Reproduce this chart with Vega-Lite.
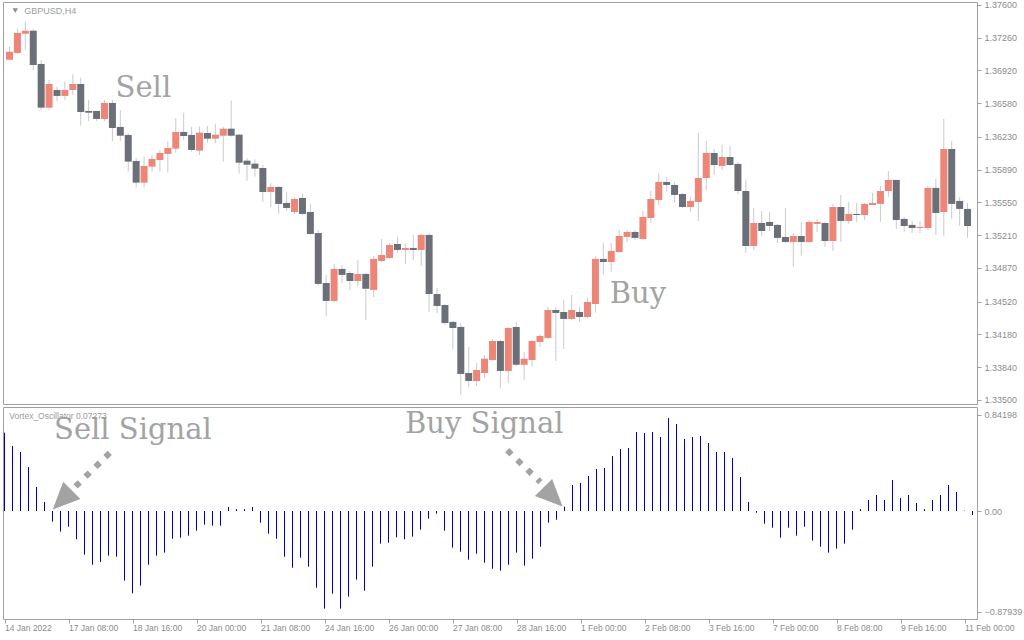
{
  "$schema": "https://vega.github.io/schema/vega-lite/v6.json",
  "padding": {"left": 2, "top": 0, "right": 0, "bottom": 0},
  "background": "white",
  "spacing": 3,
  "bounds": "flush",
  "config": {
    "view": {"stroke": "#a0a0a0", "strokeWidth": 1},
    "axis": {"grid": false, "domain": false, "labelFont": "Liberation Sans", "labelFontSize": 9, "labelColor": "#8c8c8c", "tickColor": "#a0a0a0", "tickSize": 4, "title": null, "labelOverlap": false}
  },
  "resolve": {"scale": {"x": "independent", "y": "independent"}},
  "datasets": {
    "candles": [
      {"i":0,"o":1.37032,"h":1.37167,"l":1.37029,"c":1.37115},
      {"i":1,"o":1.37102,"h":1.37358,"l":1.37092,"c":1.37310},
      {"i":2,"o":1.37302,"h":1.37427,"l":1.37136,"c":1.37333},
      {"i":3,"o":1.37333,"h":1.37351,"l":1.36925,"c":1.36977},
      {"i":4,"o":1.36988,"h":1.37029,"l":1.36510,"c":1.36534},
      {"i":5,"o":1.36534,"h":1.36822,"l":1.36510,"c":1.36780},
      {"i":6,"o":1.36718,"h":1.36752,"l":1.36604,"c":1.36656},
      {"i":7,"o":1.36656,"h":1.36804,"l":1.36614,"c":1.36718},
      {"i":8,"o":1.36718,"h":1.36881,"l":1.36666,"c":1.36780},
      {"i":9,"o":1.36780,"h":1.36845,"l":1.36347,"c":1.36489},
      {"i":10,"o":1.36500,"h":1.36614,"l":1.36396,"c":1.36482},
      {"i":11,"o":1.36500,"h":1.36500,"l":1.36396,"c":1.36417},
      {"i":12,"o":1.36417,"h":1.36614,"l":1.36396,"c":1.36583},
      {"i":13,"o":1.36583,"h":1.36614,"l":1.36188,"c":1.36323},
      {"i":14,"o":1.36334,"h":1.36510,"l":1.36188,"c":1.36243},
      {"i":15,"o":1.36251,"h":1.36271,"l":1.35870,"c":1.35974},
      {"i":16,"o":1.35981,"h":1.36012,"l":1.35704,"c":1.35756},
      {"i":17,"o":1.35756,"h":1.36025,"l":1.35704,"c":1.35929},
      {"i":18,"o":1.35922,"h":1.36043,"l":1.35870,"c":1.36002},
      {"i":19,"o":1.35991,"h":1.36095,"l":1.35870,"c":1.36064},
      {"i":20,"o":1.36054,"h":1.36188,"l":1.35859,"c":1.36116},
      {"i":21,"o":1.36109,"h":1.36427,"l":1.36067,"c":1.36282},
      {"i":22,"o":1.36282,"h":1.36479,"l":1.36199,"c":1.36240},
      {"i":23,"o":1.36251,"h":1.36334,"l":1.36077,"c":1.36095},
      {"i":24,"o":1.36088,"h":1.36337,"l":1.36043,"c":1.36275},
      {"i":25,"o":1.36271,"h":1.36344,"l":1.36171,"c":1.36212},
      {"i":26,"o":1.36212,"h":1.36365,"l":1.36165,"c":1.36254},
      {"i":27,"o":1.36243,"h":1.36334,"l":1.35974,"c":1.36316},
      {"i":28,"o":1.36316,"h":1.36607,"l":1.36233,"c":1.36243},
      {"i":29,"o":1.36254,"h":1.36261,"l":1.35849,"c":1.35963},
      {"i":30,"o":1.35984,"h":1.36009,"l":1.35776,"c":1.35942},
      {"i":31,"o":1.35953,"h":1.35998,"l":1.35818,"c":1.35901},
      {"i":32,"o":1.35908,"h":1.35939,"l":1.35555,"c":1.35659},
      {"i":33,"o":1.35659,"h":1.35752,"l":1.35503,"c":1.35711},
      {"i":34,"o":1.35711,"h":1.35721,"l":1.35431,"c":1.35535},
      {"i":35,"o":1.35545,"h":1.35659,"l":1.35462,"c":1.35493},
      {"i":36,"o":1.35451,"h":1.35600,"l":1.35431,"c":1.35586},
      {"i":37,"o":1.35597,"h":1.35638,"l":1.35420,"c":1.35431},
      {"i":38,"o":1.35451,"h":1.35535,"l":1.35213,"c":1.35223},
      {"i":39,"o":1.35233,"h":1.35265,"l":1.34686,"c":1.34704},
      {"i":40,"o":1.34714,"h":1.34798,"l":1.34372,"c":1.34528},
      {"i":41,"o":1.34528,"h":1.34912,"l":1.34517,"c":1.34860},
      {"i":42,"o":1.34860,"h":1.34901,"l":1.34714,"c":1.34798},
      {"i":43,"o":1.34818,"h":1.34839,"l":1.34642,"c":1.34735},
      {"i":44,"o":1.34735,"h":1.34953,"l":1.34683,"c":1.34808},
      {"i":45,"o":1.34808,"h":1.34818,"l":1.34330,"c":1.34654},
      {"i":46,"o":1.34642,"h":1.34995,"l":1.34569,"c":1.34964},
      {"i":47,"o":1.34943,"h":1.35171,"l":1.34932,"c":1.35005},
      {"i":48,"o":1.34974,"h":1.35129,"l":1.34964,"c":1.35109},
      {"i":49,"o":1.35119,"h":1.35192,"l":1.35026,"c":1.35057},
      {"i":50,"o":1.35057,"h":1.35129,"l":1.34912,"c":1.35078},
      {"i":51,"o":1.35078,"h":1.35213,"l":1.34953,"c":1.35057},
      {"i":52,"o":1.35057,"h":1.35223,"l":1.34891,"c":1.35213},
      {"i":53,"o":1.35213,"h":1.35233,"l":1.34413,"c":1.34600},
      {"i":54,"o":1.34600,"h":1.34663,"l":1.34403,"c":1.34476},
      {"i":55,"o":1.34486,"h":1.34496,"l":1.34279,"c":1.34299},
      {"i":56,"o":1.34310,"h":1.34320,"l":1.34029,"c":1.34247},
      {"i":57,"o":1.34258,"h":1.34299,"l":1.33552,"c":1.33770},
      {"i":58,"o":1.33780,"h":1.34050,"l":1.33635,"c":1.33697},
      {"i":59,"o":1.33697,"h":1.33884,"l":1.33645,"c":1.33811},
      {"i":60,"o":1.33780,"h":1.33967,"l":1.33728,"c":1.33928},
      {"i":61,"o":1.33915,"h":1.34133,"l":1.33905,"c":1.34112},
      {"i":62,"o":1.34112,"h":1.34123,"l":1.33625,"c":1.33801},
      {"i":63,"o":1.33801,"h":1.34258,"l":1.33676,"c":1.34247},
      {"i":64,"o":1.34258,"h":1.34310,"l":1.33853,"c":1.33865},
      {"i":65,"o":1.33865,"h":1.33998,"l":1.33708,"c":1.33928},
      {"i":66,"o":1.33915,"h":1.34123,"l":1.33843,"c":1.34112},
      {"i":67,"o":1.34102,"h":1.34185,"l":1.34050,"c":1.34164},
      {"i":68,"o":1.34144,"h":1.34465,"l":1.34133,"c":1.34434},
      {"i":69,"o":1.34434,"h":1.34465,"l":1.33905,"c":1.34403},
      {"i":70,"o":1.34413,"h":1.34538,"l":1.34029,"c":1.34341},
      {"i":71,"o":1.34341,"h":1.34590,"l":1.34330,"c":1.34434},
      {"i":72,"o":1.34413,"h":1.34465,"l":1.34310,"c":1.34361},
      {"i":73,"o":1.34361,"h":1.34559,"l":1.34351,"c":1.34517},
      {"i":74,"o":1.34496,"h":1.34995,"l":1.34406,"c":1.34964},
      {"i":75,"o":1.34964,"h":1.35129,"l":1.34798,"c":1.34932},
      {"i":76,"o":1.34932,"h":1.35129,"l":1.34832,"c":1.35047},
      {"i":77,"o":1.35036,"h":1.35265,"l":1.35026,"c":1.35202},
      {"i":78,"o":1.35192,"h":1.35265,"l":1.35140,"c":1.35244},
      {"i":79,"o":1.35244,"h":1.35265,"l":1.35161,"c":1.35182},
      {"i":80,"o":1.35171,"h":1.35462,"l":1.35161,"c":1.35400},
      {"i":81,"o":1.35389,"h":1.35669,"l":1.35337,"c":1.35586},
      {"i":82,"o":1.35576,"h":1.35856,"l":1.35524,"c":1.35763},
      {"i":83,"o":1.35763,"h":1.35815,"l":1.35659,"c":1.35732},
      {"i":84,"o":1.35732,"h":1.35763,"l":1.35545,"c":1.35628},
      {"i":85,"o":1.35638,"h":1.35649,"l":1.35493,"c":1.35503},
      {"i":86,"o":1.35503,"h":1.35607,"l":1.35451,"c":1.35566},
      {"i":87,"o":1.35555,"h":1.36271,"l":1.35358,"c":1.35804},
      {"i":88,"o":1.35804,"h":1.36188,"l":1.35680,"c":1.36064},
      {"i":89,"o":1.36064,"h":1.36105,"l":1.35836,"c":1.35939},
      {"i":90,"o":1.35929,"h":1.36147,"l":1.35887,"c":1.36022},
      {"i":91,"o":1.36022,"h":1.36137,"l":1.35929,"c":1.35939},
      {"i":92,"o":1.35950,"h":1.35970,"l":1.35638,"c":1.35669},
      {"i":93,"o":1.35669,"h":1.35784,"l":1.35026,"c":1.35098},
      {"i":94,"o":1.35098,"h":1.35493,"l":1.35057,"c":1.35337},
      {"i":95,"o":1.35337,"h":1.35462,"l":1.35202,"c":1.35254},
      {"i":96,"o":1.35348,"h":1.35451,"l":1.35254,"c":1.35306},
      {"i":97,"o":1.35317,"h":1.35327,"l":1.35130,"c":1.35182},
      {"i":98,"o":1.35192,"h":1.35493,"l":1.35130,"c":1.35140},
      {"i":99,"o":1.35140,"h":1.35233,"l":1.34884,"c":1.35202},
      {"i":100,"o":1.35202,"h":1.35348,"l":1.34998,"c":1.35140},
      {"i":101,"o":1.35140,"h":1.35368,"l":1.35130,"c":1.35348},
      {"i":102,"o":1.35327,"h":1.35379,"l":1.35244,"c":1.35348},
      {"i":103,"o":1.35337,"h":1.35348,"l":1.35088,"c":1.35150},
      {"i":104,"o":1.35150,"h":1.35535,"l":1.35047,"c":1.35503},
      {"i":105,"o":1.35503,"h":1.35628,"l":1.35140,"c":1.35358},
      {"i":106,"o":1.35358,"h":1.35555,"l":1.35327,"c":1.35431},
      {"i":107,"o":1.35431,"h":1.35545,"l":1.35348,"c":1.35420},
      {"i":108,"o":1.35420,"h":1.35545,"l":1.35368,"c":1.35535},
      {"i":109,"o":1.35524,"h":1.35649,"l":1.35524,"c":1.35545},
      {"i":110,"o":1.35535,"h":1.35721,"l":1.35348,"c":1.35669},
      {"i":111,"o":1.35669,"h":1.35877,"l":1.35607,"c":1.35784},
      {"i":112,"o":1.35784,"h":1.35784,"l":1.35275,"c":1.35368},
      {"i":113,"o":1.35379,"h":1.35400,"l":1.35244,"c":1.35306},
      {"i":114,"o":1.35317,"h":1.35358,"l":1.35233,"c":1.35285},
      {"i":115,"o":1.35285,"h":1.35358,"l":1.35233,"c":1.35296},
      {"i":116,"o":1.35285,"h":1.35721,"l":1.35265,"c":1.35701},
      {"i":117,"o":1.35701,"h":1.35794,"l":1.35213,"c":1.35441},
      {"i":118,"o":1.35451,"h":1.36417,"l":1.35202,"c":1.36105},
      {"i":119,"o":1.36105,"h":1.36188,"l":1.35379,"c":1.35535},
      {"i":120,"o":1.35566,"h":1.35607,"l":1.35306,"c":1.35483},
      {"i":121,"o":1.35483,"h":1.35545,"l":1.35182,"c":1.35306}
    ],
    "osc": [
      {"i":0,"v":0.684},{"i":1,"v":0.568},{"i":2,"v":0.515},{"i":3,"v":0.384},{"i":4,"v":0.21},{"i":5,"v":0.079},
      {"i":6,"v":-0.093},{"i":7,"v":-0.18},{"i":8,"v":-0.137},{"i":9,"v":-0.247},{"i":10,"v":-0.381},{"i":11,"v":-0.469},
      {"i":12,"v":-0.445},{"i":13,"v":-0.39},{"i":14,"v":-0.399},{"i":15,"v":-0.608},{"i":16,"v":-0.719},{"i":17,"v":-0.652},
      {"i":18,"v":-0.469},{"i":19,"v":-0.39},{"i":20,"v":-0.364},{"i":21,"v":-0.242},{"i":22,"v":-0.233},{"i":23,"v":-0.215},
      {"i":24,"v":-0.172},{"i":25,"v":-0.119},{"i":26,"v":-0.128},{"i":27,"v":-0.128},{"i":28,"v":0.035},{"i":29,"v":0.017},
      {"i":30,"v":0.017},{"i":31,"v":0.035},{"i":32,"v":-0.102},{"i":33,"v":-0.198},{"i":34,"v":-0.242},{"i":35,"v":-0.399},
      {"i":36,"v":-0.495},{"i":37,"v":-0.408},{"i":38,"v":-0.486},{"i":39,"v":-0.67},{"i":40,"v":-0.853},{"i":41,"v":-0.722},
      {"i":42,"v":-0.853},{"i":43,"v":-0.748},{"i":44,"v":-0.6},{"i":45,"v":-0.696},{"i":46,"v":-0.486},{"i":47,"v":-0.285},
      {"i":48,"v":-0.277},{"i":49,"v":-0.23},{"i":50,"v":-0.247},{"i":51,"v":-0.224},{"i":52,"v":-0.163},{"i":53,"v":-0.067},
      {"i":54,"v":-0.023},{"i":55,"v":-0.172},{"i":56,"v":-0.32},{"i":57,"v":-0.355},{"i":58,"v":-0.425},{"i":59,"v":-0.373},
      {"i":60,"v":-0.451},{"i":61,"v":-0.504},{"i":62,"v":-0.521},{"i":63,"v":-0.469},{"i":64,"v":-0.364},{"i":65,"v":-0.477},
      {"i":66,"v":-0.416},{"i":67,"v":-0.312},{"i":68,"v":-0.102},{"i":69,"v":-0.076},{"i":70,"v":0.038},{"i":71,"v":0.227},
      {"i":72,"v":0.245},{"i":73,"v":0.306},{"i":74,"v":0.367},{"i":75,"v":0.376},{"i":76,"v":0.48},{"i":77,"v":0.541},
      {"i":78,"v":0.55},{"i":79,"v":0.69},{"i":80,"v":0.681},{"i":81,"v":0.69},{"i":82,"v":0.646},{"i":83,"v":0.812},
      {"i":84,"v":0.76},{"i":85,"v":0.629},{"i":86,"v":0.646},{"i":87,"v":0.655},{"i":88,"v":0.594},{"i":89,"v":0.515},
      {"i":90,"v":0.515},{"i":91,"v":0.463},{"i":92,"v":0.297},{"i":93,"v":0.079},{"i":94,"v":-0.015},{"i":95,"v":-0.111},
      {"i":96,"v":-0.146},{"i":97,"v":-0.233},{"i":98,"v":-0.146},{"i":99,"v":-0.215},{"i":100,"v":-0.137},{"i":101,"v":-0.259},
      {"i":102,"v":-0.312},{"i":103,"v":-0.364},{"i":104,"v":-0.329},{"i":105,"v":-0.285},{"i":106,"v":-0.163},{"i":107,"v":0.017},
      {"i":108,"v":0.096},{"i":109,"v":0.14},{"i":110,"v":0.096},{"i":111,"v":0.271},{"i":112,"v":0.114},{"i":113,"v":0.14},
      {"i":114,"v":0.07},{"i":115,"v":0.017},{"i":116,"v":0.096},{"i":117,"v":0.14},{"i":118,"v":0.227},{"i":119,"v":0.166},
      {"i":120,"v":0.003},{"i":121,"v":-0.035}
    ]
  },
  "vconcat": [
    {
      "width": 974,
      "height": 402,
      "layer": [
        {
          "data": {"name": "candles"},
          "mark": {"type": "rule", "color": "#c8cad4", "strokeWidth": 1},
          "encoding": {
            "x": {"field": "i", "type": "quantitative", "scale": {"domain": [-0.1875, 121.5625], "nice": false, "zero": false}, "axis": null},
            "y": {"field": "l", "type": "quantitative", "scale": {"domain": [1.33458, 1.37631], "nice": false, "zero": false},
              "axis": {"orient": "right", "values": [1.376, 1.3726, 1.3692, 1.3658, 1.3623, 1.3589, 1.3555, 1.3521, 1.3487, 1.3452, 1.3418, 1.3384, 1.335], "tickCount": 40, "format": ".5f", "labelPadding": 3, "labelOverlap": false, "labelBound": false, "labelFlush": false}},
            "y2": {"field": "h"}
          }
        },
        {
          "data": {"name": "candles"},
          "mark": {"type": "bar", "size": 7},
          "encoding": {
            "x": {"field": "i", "type": "quantitative"},
            "y": {"field": "o", "type": "quantitative"},
            "y2": {"field": "c"},
            "color": {"condition": {"test": "datum.c >= datum.o", "value": "#ee8677"}, "value": "#6a6f78"}
          }
        },
        {
          "data": {"values": [{"i": 13.4, "p": 1.36645, "t": "Sell"}, {"i": 75.8, "p": 1.3451, "t": "Buy"}]},
          "mark": {"type": "text", "font": "DejaVu Serif", "fontSize": 29, "color": "#a3a3a3", "align": "left", "baseline": "alphabetic"},
          "encoding": {
            "x": {"field": "i", "type": "quantitative"},
            "y": {"field": "p", "type": "quantitative"},
            "text": {"field": "t"}
          }
        },
        {
          "data": {"values": [{"i": 1.85, "p": 1.37541, "t": "GBPUSD,H4"}]},
          "mark": {"type": "text", "font": "Liberation Sans", "fontSize": 9, "color": "#9a9ea8", "align": "left", "baseline": "middle"},
          "encoding": {
            "x": {"field": "i", "type": "quantitative"},
            "y": {"field": "p", "type": "quantitative"},
            "text": {"field": "t"}
          }
        },
        {
          "data": {"values": [{"i": 0.73, "p": 1.37541}]},
          "mark": {"type": "point", "shape": "triangle-down", "size": 30, "filled": true, "color": "#8a8f99", "opacity": 1},
          "encoding": {
            "x": {"field": "i", "type": "quantitative"},
            "y": {"field": "p", "type": "quantitative"}
          }
        }
      ]
    },
    {
      "width": 974,
      "height": 212,
      "layer": [
        {
          "data": {"name": "osc"},
          "mark": {"type": "rule", "color": "#0000a8", "strokeWidth": 1},
          "encoding": {
            "x": {"field": "i", "type": "quantitative", "scale": {"domain": [-0.1875, 121.5625], "nice": false, "zero": false},
              "axis": {"values": [0, 8, 16, 24, 32, 40, 48, 56, 64, 72, 80, 88, 96, 104, 112, 120], "tickCount": 40,
                "labelExpr": "['14 Jan 2022','17 Jan 08:00','18 Jan 16:00','20 Jan 00:00','21 Jan 08:00','24 Jan 16:00','26 Jan 00:00','27 Jan 08:00','28 Jan 16:00','1 Feb 00:00','2 Feb 08:00','3 Feb 16:00','7 Feb 00:00','8 Feb 08:00','9 Feb 16:00','11 Feb 00:00'][round(datum.value / 8)]",
                "labelAlign": "left", "labelPadding": 0, "labelFontSize": 8.5, "labelFlush": false, "labelBound": false, "labelOverlap": false}},
            "y": {"field": "v", "type": "quantitative", "scale": {"domain": [-0.94323, 0.9083], "nice": false, "zero": false},
              "axis": {"orient": "right", "values": [0.84198, 0, -0.87939], "labelExpr": "datum.value == 0 ? '0.00' : format(datum.value, '.5f')", "labelPadding": 3, "labelOverlap": false}},
            "y2": {"datum": 0}
          }
        },
        {
          "mark": {"type": "rule", "color": "#000000", "strokeWidth": 1, "strokeDash": [2, 2]},
          "encoding": {"y": {"datum": 0}}
        },
        {
          "data": {"values": [{"i": 6.19, "v": 0.628, "t": "Sell Signal"}, {"i": 50.06, "v": 0.684, "t": "Buy Signal"}]},
          "mark": {"type": "text", "font": "DejaVu Serif", "fontSize": 29, "color": "#a3a3a3", "align": "left", "baseline": "alphabetic"},
          "encoding": {
            "x": {"field": "i", "type": "quantitative"},
            "y": {"field": "v", "type": "quantitative"},
            "text": {"field": "t"}
          }
        },
        {
          "data": {"values": [{"i": 0.6, "v": 0.832, "t": "Vortex_Oscillator 0.07273"}]},
          "mark": {"type": "text", "font": "Liberation Sans", "fontSize": 8.5, "color": "#9a9a9a", "align": "left", "baseline": "middle"},
          "encoding": {
            "x": {"field": "i", "type": "quantitative"},
            "y": {"field": "v", "type": "quantitative"},
            "text": {"field": "t"}
          }
        },
        {
          "data": {"values": [{"i": 13.16, "v": 0.507, "i2": 8.89, "v2": 0.215}, {"i": 62.84, "v": 0.531, "i2": 66.99, "v2": 0.252}]},
          "mark": {"type": "rule", "color": "#a3a3a3", "strokeWidth": 6, "strokeDash": [6, 8], "strokeCap": "butt"},
          "encoding": {
            "x": {"field": "i", "type": "quantitative"},
            "y": {"field": "v", "type": "quantitative"},
            "x2": {"field": "i2"},
            "y2": {"field": "v2"}
          }
        },
        {
          "data": {"values": [{"i": 7.22, "v": 0.097}]},
          "mark": {"type": "point", "shape": "M0,-1L0.9,1L-0.9,1Z", "size": 729, "angle": 225, "filled": true, "color": "#a3a3a3", "opacity": 1},
          "encoding": {
            "x": {"field": "i", "type": "quantitative"},
            "y": {"field": "v", "type": "quantitative"}
          }
        },
        {
          "data": {"values": [{"i": 68.57, "v": 0.122}]},
          "mark": {"type": "point", "shape": "M0,-1L0.9,1L-0.9,1Z", "size": 729, "angle": 135, "filled": true, "color": "#a3a3a3", "opacity": 1},
          "encoding": {
            "x": {"field": "i", "type": "quantitative"},
            "y": {"field": "v", "type": "quantitative"}
          }
        }
      ]
    }
  ]
}
